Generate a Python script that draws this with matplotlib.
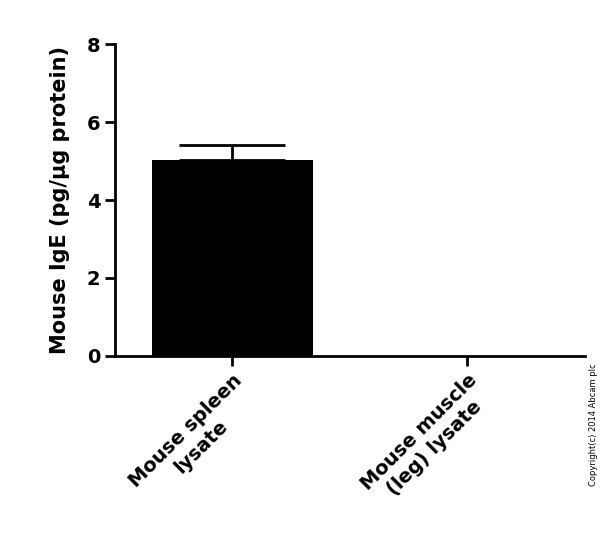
import matplotlib.pyplot as plt

categories = ['Mouse spleen\nlysate', 'Mouse muscle\n(leg) lysate']
values = [5.03, 0.0]
errors = [0.38, 0.0]

fig = plt.figure(figsize=(6, 5.51), dpi=100)
ax = fig.add_axes([0.192, 0.354, 0.783, 0.566])

x = [0, 1]
ax.bar(x, values, width=0.685, color='black')
ax.errorbar(x[0], values[0], yerr=[[0], [errors[0]]], fmt='none',
            ecolor='black', elinewidth=2, capsize=38, capthick=2)

ax.set_xlim(-0.498, 1.502)
ax.set_ylim(0, 8)
ax.set_yticks([0, 2, 4, 6, 8])
ax.set_xticks(x)
ax.set_xticklabels(categories, rotation=45, ha='right', rotation_mode='anchor',
                   multialignment='center', fontsize=14, fontweight='bold')
for lbl in ax.get_yticklabels():
    lbl.set_fontsize(14)
    lbl.set_fontweight('bold')
ax.set_ylabel('Mouse IgE (pg/\u03bcg protein)', fontsize=15, fontweight='bold', labelpad=12)

for s in ['top', 'right']:
    ax.spines[s].set_visible(False)
for s in ['left', 'bottom']:
    ax.spines[s].set_linewidth(2)
ax.tick_params(width=2, length=7, direction='out')

fig.text(0.99, 0.23, 'Copyright(c) 2014 Abcam plc', rotation=90, fontsize=6,
         ha='center', va='center')

fig.savefig('out.png', dpi=100)
